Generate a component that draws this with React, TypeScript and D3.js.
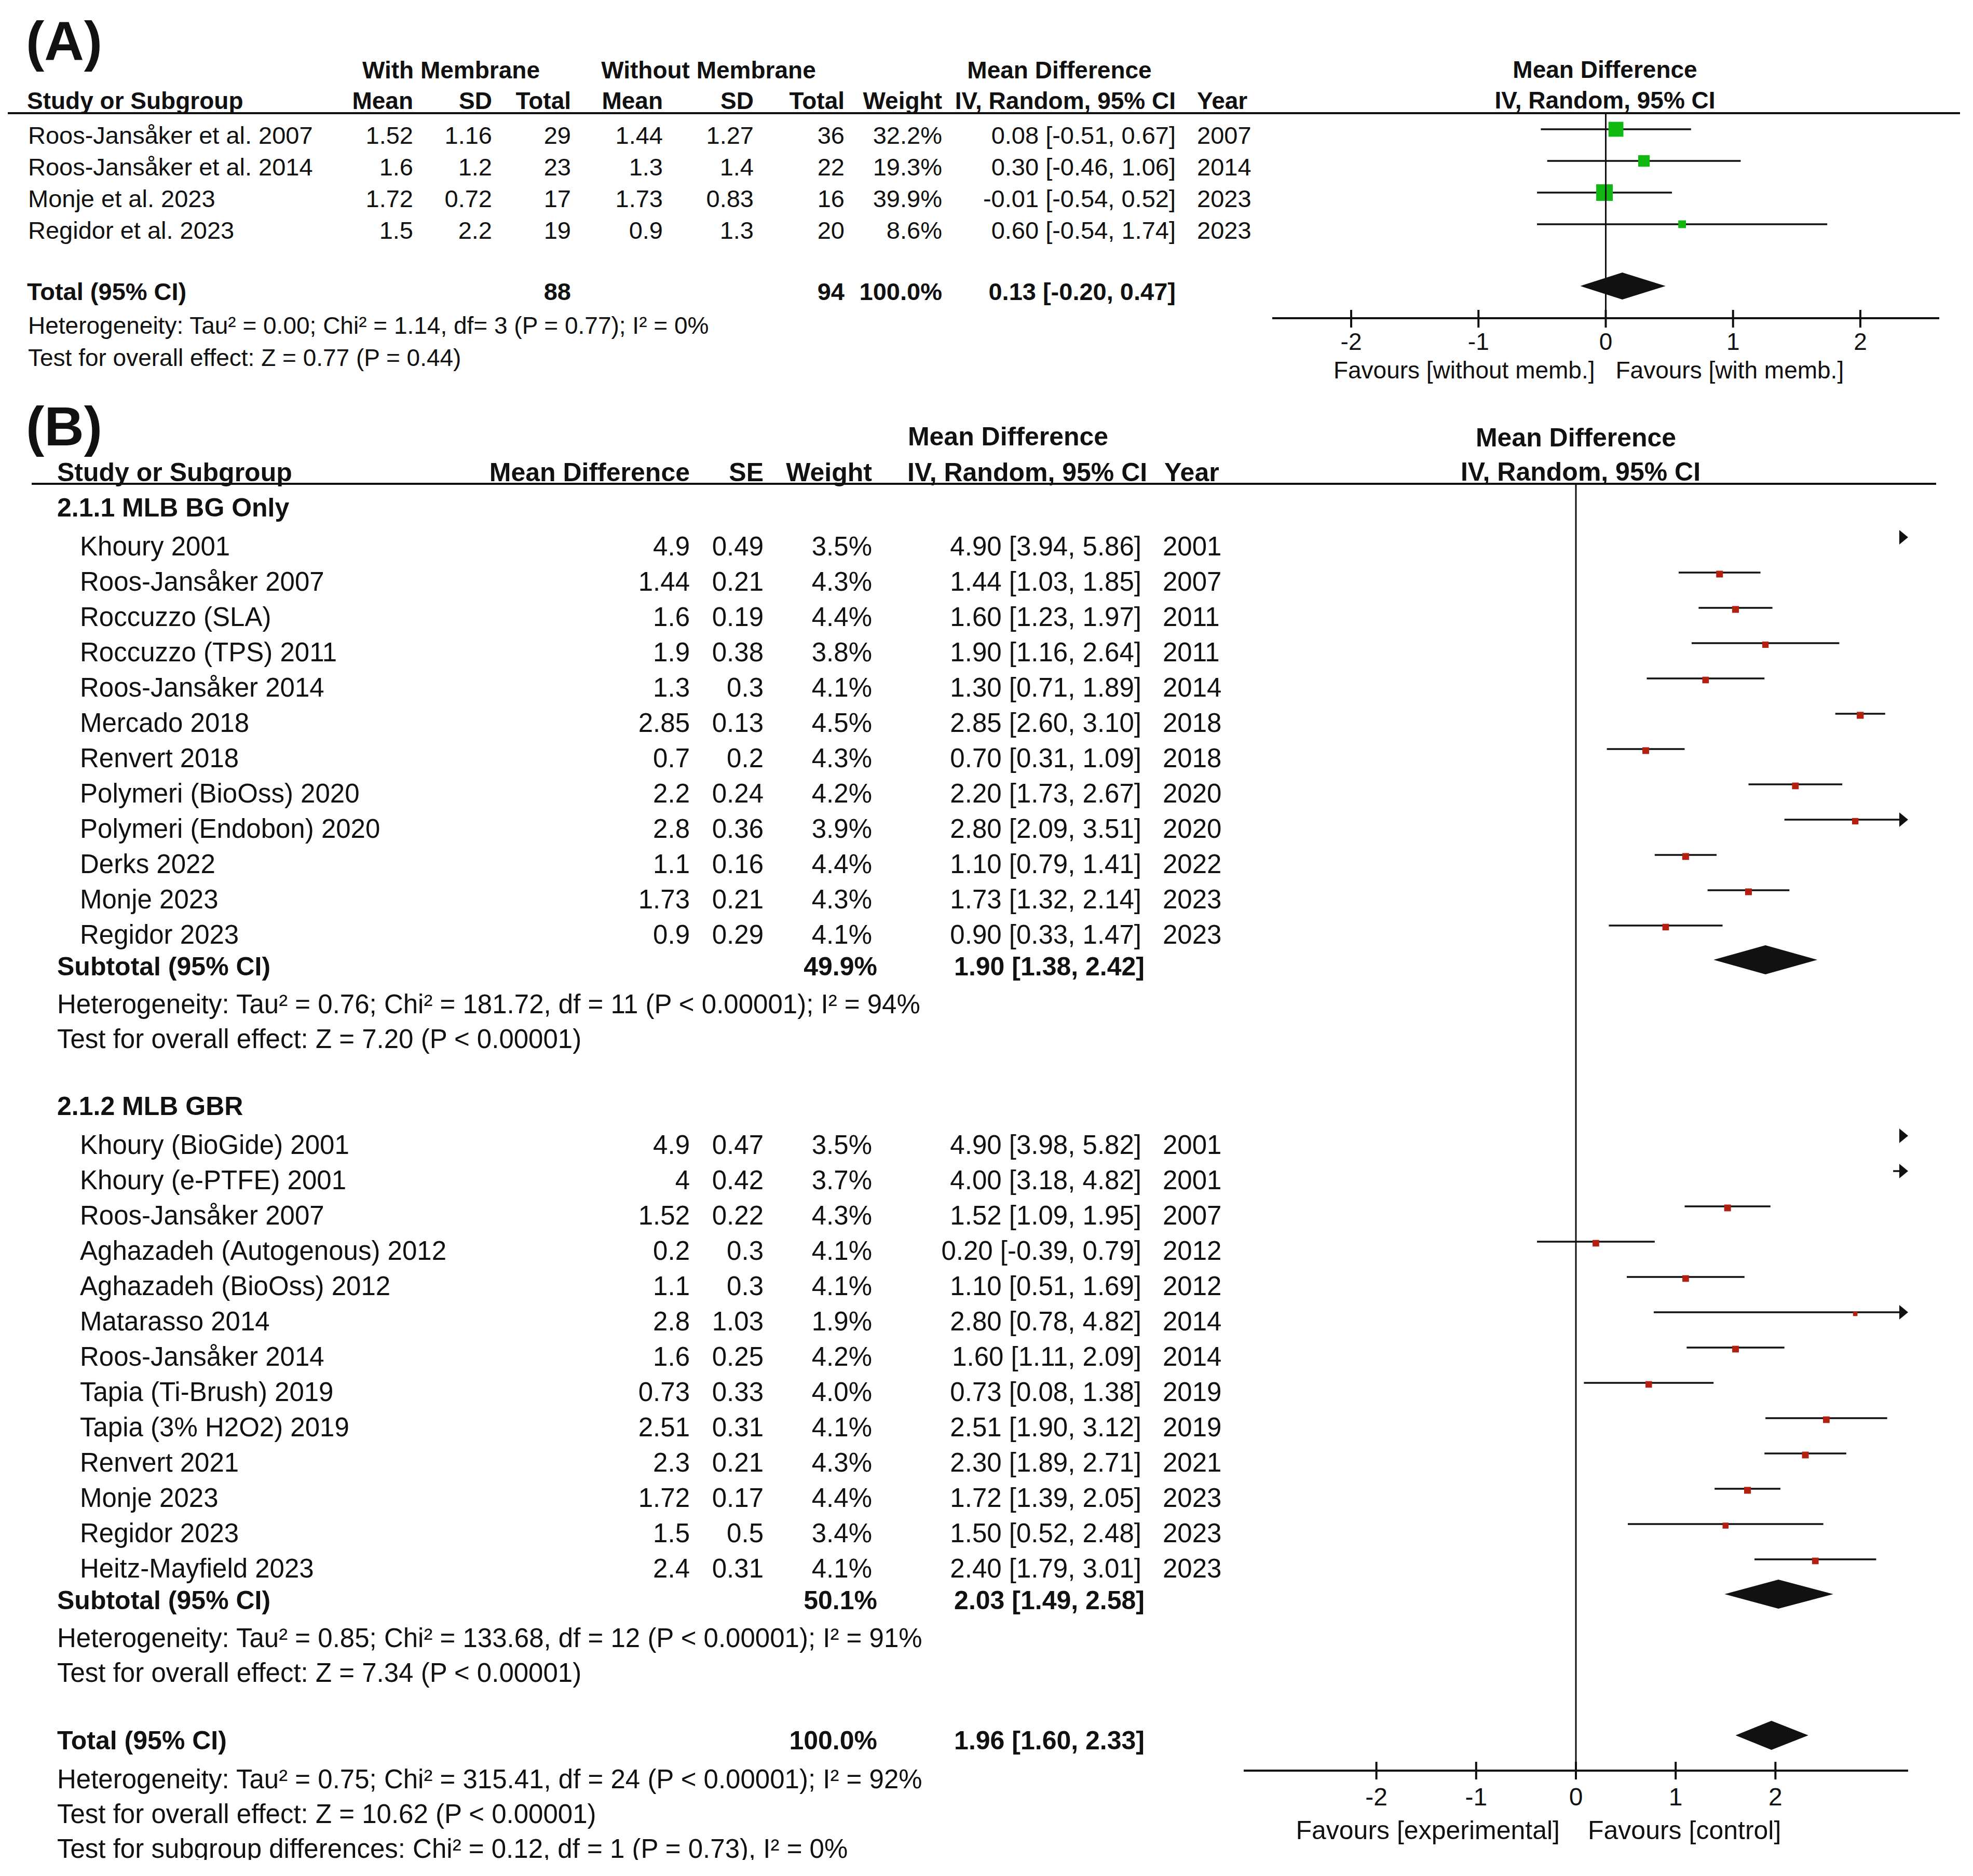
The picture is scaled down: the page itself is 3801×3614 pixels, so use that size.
import React from 'react';
import * as d3 from 'd3';

// ---------------- Panel A data ----------------
const studiesA = ['Roos-Jansåker et al. 2007', 'Roos-Jansåker et al. 2014', 'Monje et al. 2023', 'Regidor et al. 2023'];
const meanWithA = [1.52, 1.6, 1.72, 1.5];
const sdWithA = [1.16, 1.2, 0.72, 2.2];
const totalWithA = [29, 23, 17, 19];
const meanWithoutA = [1.44, 1.3, 1.73, 0.9];
const sdWithoutA = [1.27, 1.4, 0.83, 1.3];
const totalWithoutA = [36, 22, 16, 20];
const weightA = [32.2, 19.3, 39.9, 8.6];
const mdA = [0.08, 0.3, -0.01, 0.6];
const lowerA = [-0.51, -0.46, -0.54, -0.54];
const upperA = [0.67, 1.06, 0.52, 1.74];
const yearA = [2007, 2014, 2023, 2023];
const overallA = [0.13, -0.2, 0.47];
const sumTotalsA = [88, 94];
const ticksA = [-2, -1, 0, 1, 2];
const hetA = 'Heterogeneity: Tau² = 0.00; Chi² = 1.14, df= 3 (P = 0.77); I² = 0%';
const testA = 'Test for overall effect: Z = 0.77 (P = 0.44)';

// ---------------- Panel B data ----------------
const g1Names = ['Khoury 2001', 'Roos-Jansåker 2007', 'Roccuzzo (SLA)', 'Roccuzzo (TPS) 2011', 'Roos-Jansåker 2014', 'Mercado 2018', 'Renvert 2018', 'Polymeri (BioOss) 2020', 'Polymeri (Endobon) 2020', 'Derks 2022', 'Monje 2023', 'Regidor 2023'];
const g1MD = [4.9, 1.44, 1.6, 1.9, 1.3, 2.85, 0.7, 2.2, 2.8, 1.1, 1.73, 0.9];
const g1SE = [0.49, 0.21, 0.19, 0.38, 0.3, 0.13, 0.2, 0.24, 0.36, 0.16, 0.21, 0.29];
const g1Weight = [3.5, 4.3, 4.4, 3.8, 4.1, 4.5, 4.3, 4.2, 3.9, 4.4, 4.3, 4.1];
const g1Lo = [3.94, 1.03, 1.23, 1.16, 0.71, 2.6, 0.31, 1.73, 2.09, 0.79, 1.32, 0.33];
const g1Hi = [5.86, 1.85, 1.97, 2.64, 1.89, 3.1, 1.09, 2.67, 3.51, 1.41, 2.14, 1.47];
const g1Year = [2001, 2007, 2011, 2011, 2014, 2018, 2018, 2020, 2020, 2022, 2023, 2023];
const g1Sub = [49.9, 1.9, 1.38, 2.42];
const g1Het = 'Heterogeneity: Tau² = 0.76; Chi² = 181.72, df = 11 (P < 0.00001); I² = 94%';
const g1Test = 'Test for overall effect: Z = 7.20 (P < 0.00001)';

const g2Names = ['Khoury (BioGide) 2001', 'Khoury (e-PTFE) 2001', 'Roos-Jansåker 2007', 'Aghazadeh (Autogenous) 2012', 'Aghazadeh (BioOss) 2012', 'Matarasso 2014', 'Roos-Jansåker 2014', 'Tapia (Ti-Brush) 2019', 'Tapia (3% H2O2) 2019', 'Renvert 2021', 'Monje 2023', 'Regidor 2023', 'Heitz-Mayfield 2023'];
const g2MD = [4.9, 4, 1.52, 0.2, 1.1, 2.8, 1.6, 0.73, 2.51, 2.3, 1.72, 1.5, 2.4];
const g2SE = [0.47, 0.42, 0.22, 0.3, 0.3, 1.03, 0.25, 0.33, 0.31, 0.21, 0.17, 0.5, 0.31];
const g2Weight = [3.5, 3.7, 4.3, 4.1, 4.1, 1.9, 4.2, 4.0, 4.1, 4.3, 4.4, 3.4, 4.1];
const g2Lo = [3.98, 3.18, 1.09, -0.39, 0.51, 0.78, 1.11, 0.08, 1.9, 1.89, 1.39, 0.52, 1.79];
const g2Hi = [5.82, 4.82, 1.95, 0.79, 1.69, 4.82, 2.09, 1.38, 3.12, 2.71, 2.05, 2.48, 3.01];
const g2Year = [2001, 2001, 2007, 2012, 2012, 2014, 2014, 2019, 2019, 2021, 2023, 2023, 2023];
const g2Sub = [50.1, 2.03, 1.49, 2.58];
const g2Het = 'Heterogeneity: Tau² = 0.85; Chi² = 133.68, df = 12 (P < 0.00001); I² = 91%';
const g2Test = 'Test for overall effect: Z = 7.34 (P < 0.00001)';

const totalB = [100.0, 1.96, 1.6, 2.33];
const totalHetB = 'Heterogeneity: Tau² = 0.75; Chi² = 315.41, df = 24 (P < 0.00001); I² = 92%';
const totalTestB = 'Test for overall effect: Z = 10.62 (P < 0.00001)';
const subgroupTestB = 'Test for subgroup differences: Chi² = 0.12, df = 1 (P = 0.73), I² = 0%';
const ticksB = [-2, -1, 0, 1, 2];

const FONT = '"Liberation Sans", Arial, Helvetica, sans-serif';
const W = 3801;
const H = 3614;

const fmt2 = (v: number) => v.toFixed(2);
const ciText = (m: number, l: number, h: number) => `${fmt2(m)} [${fmt2(l)}, ${fmt2(h)}]`;

type TProps = { x: number; y: number; s: number; bold?: boolean; anchor?: 'start' | 'middle' | 'end'; children: React.ReactNode; clip?: string };
const T = ({ x, y, s, bold, anchor = 'start', children, clip }: TProps) => (
  <text x={x} y={y} fontSize={s} fontWeight={bold ? 'bold' : 'normal'} textAnchor={anchor} fontFamily={FONT} fill="#111" clipPath={clip}>
    {children}
  </text>
);

const GREEN = '#12b812';
const RED = '#b3200f';

export default function App() {
  // ---------- Panel A scales ----------
  const xA = d3.scaleLinear().domain([-2.62, 2.62]).range([2451, 3736]);
  const sqA = d3.scaleSqrt().domain([0, 40]).range([0, 32]);
  const fsA = 47;
  const rowA = (i: number) => 277 + 61 * i;
  const offA = 28;
  const axisYA = 613;

  // ---------- Panel B scales ----------
  const xB = d3.scaleLinear().domain([-3.33, 3.33]).range([2396, 3676]);
  const sqB = d3.scaleSqrt().domain([0, 5]).range([0, 14]);
  const fsB = 51;
  const off = 35;
  const g1Base = (i: number) => 1070 + 68 * i;
  const g1SubY = g1Base(11) + 61;
  const g2Title = g1SubY + 73 + 67 + 129;
  const g2Base = (i: number) => g2Title + 75 + 68 * i;
  const g2SubY = g2Base(12) + 61;
  const totalY = g2SubY + 270;
  const axisYB = 3411;
  const [bMin, bMax] = xB.domain();

  const diamondPath = (x: d3.ScaleLinear<number, number>, m: number, l: number, h: number, cy: number, hh: number) =>
    `M${x(l)},${cy} L${x(m)},${cy - hh} L${x(h)},${cy} L${x(m)},${cy + hh} Z`;

  const renderBRow = (name: string, md: number, se: number, w: number, lo: number, hi: number, yr: number, base: number, key: string) => {
    const cy = base - off;
    const rMax = xB(bMax);
    const marks: React.ReactNode[] = [];
    const ah = 17; // arrow head length
    const aw = 14; // arrow half height
    if (lo > bMax) {
      marks.push(<path key="tri" d={`M${rMax - ah},${cy - aw} L${rMax},${cy} L${rMax - ah},${cy + aw} Z`} fill="#111" />);
    } else {
      const x1 = xB(Math.max(lo, bMin));
      const clippedHi = hi > bMax;
      const x2 = clippedHi ? rMax - ah + 2 : xB(hi);
      marks.push(<line key="ci" x1={x1} x2={x2} y1={cy} y2={cy} stroke="#111" strokeWidth={3.5} />);
      if (clippedHi) marks.push(<path key="arr" d={`M${rMax - ah},${cy - aw} L${rMax},${cy} L${rMax - ah},${cy + aw} Z`} fill="#111" />);
      if (md <= bMax) {
        const s = sqB(w);
        marks.push(<rect key="sq" x={xB(md) - s / 2} y={cy - s / 2 + 3} width={s} height={s} fill={RED} />);
      }
    }
    return (
      <g key={key}>
        <T x={154} y={base} s={fsB}>{name}</T>
        <T x={1329} y={base} s={fsB} anchor="end">{String(md)}</T>
        <T x={1471} y={base} s={fsB} anchor="end">{String(se)}</T>
        <T x={1680} y={base} s={fsB} anchor="end">{w.toFixed(1) + '%'}</T>
        <T x={2199} y={base} s={fsB} anchor="end">{ciText(md, lo, hi)}</T>
        <T x={2240} y={base} s={fsB}>{String(yr)}</T>
        {marks}
      </g>
    );
  };

  return (
    <svg width={W} height={H} viewBox={`0 0 ${W} ${H}`} style={{ position: 'absolute', left: 0, top: 0, background: '#fff' }}>
      <defs>
        <clipPath id="bottomClip">
          <rect x={0} y={0} width={W} height={3583} />
        </clipPath>
      </defs>
      <rect x={0} y={0} width={W} height={H} fill="#fff" />

      {/* ================= PANEL A ================= */}
      <T x={50} y={116} s={106} bold>(A)</T>
      <T x={869} y={151} s={fsA - 1} bold anchor="middle">With Membrane</T>
      <T x={1365} y={151} s={fsA - 1} bold anchor="middle">Without Membrane</T>
      <T x={2041} y={151} s={fsA - 1} bold anchor="middle">Mean Difference</T>
      <T x={3092} y={150} s={fsA - 1} bold anchor="middle">Mean Difference</T>

      <T x={52} y={210} s={fsA - 1} bold>Study or Subgroup</T>
      <T x={796} y={210} s={fsA - 1} bold anchor="end">Mean</T>
      <T x={948} y={210} s={fsA - 1} bold anchor="end">SD</T>
      <T x={1100} y={210} s={fsA - 1} bold anchor="end">Total</T>
      <T x={1277} y={210} s={fsA - 1} bold anchor="end">Mean</T>
      <T x={1452} y={210} s={fsA - 1} bold anchor="end">SD</T>
      <T x={1627} y={210} s={fsA - 1} bold anchor="end">Total</T>
      <T x={1815} y={210} s={fsA - 1} bold anchor="end">Weight</T>
      <T x={2265} y={210} s={fsA - 1} bold anchor="end">IV, Random, 95% CI</T>
      <T x={2306} y={210} s={fsA - 1} bold>Year</T>
      <T x={3092} y={209} s={fsA - 1} bold anchor="middle">IV, Random, 95% CI</T>
      <line x1={15} x2={3776} y1={218} y2={218} stroke="#111" strokeWidth={4} />

      {studiesA.map((name, i) => {
        const b = rowA(i);
        const cy = b - offA;
        const s = sqA(weightA[i]);
        return (
          <g key={'a' + i}>
            <T x={54} y={b} s={fsA}>{name}</T>
            <T x={796} y={b} s={fsA} anchor="end">{String(meanWithA[i])}</T>
            <T x={948} y={b} s={fsA} anchor="end">{String(sdWithA[i])}</T>
            <T x={1100} y={b} s={fsA} anchor="end">{String(totalWithA[i])}</T>
            <T x={1277} y={b} s={fsA} anchor="end">{String(meanWithoutA[i])}</T>
            <T x={1452} y={b} s={fsA} anchor="end">{String(sdWithoutA[i])}</T>
            <T x={1627} y={b} s={fsA} anchor="end">{String(totalWithoutA[i])}</T>
            <T x={1815} y={b} s={fsA} anchor="end">{weightA[i].toFixed(1) + '%'}</T>
            <T x={2265} y={b} s={fsA} anchor="end">{ciText(mdA[i], lowerA[i], upperA[i])}</T>
            <T x={2306} y={b} s={fsA}>{String(yearA[i])}</T>
            <line x1={xA(lowerA[i])} x2={xA(upperA[i])} y1={cy} y2={cy} stroke="#111" strokeWidth={3.5} />
            <rect x={xA(mdA[i]) - s / 2} y={cy - s / 2} width={s} height={s} fill={GREEN} />
          </g>
        );
      })}

      <T x={52} y={578} s={fsA} bold>Total (95% CI)</T>
      <T x={1100} y={578} s={fsA} bold anchor="end">{String(sumTotalsA[0])}</T>
      <T x={1627} y={578} s={fsA} bold anchor="end">{String(sumTotalsA[1])}</T>
      <T x={1815} y={578} s={fsA} bold anchor="end">100.0%</T>
      <T x={2265} y={578} s={fsA} bold anchor="end">{ciText(overallA[0], overallA[1], overallA[2])}</T>
      <path d={diamondPath(xA, overallA[0], overallA[1], overallA[2], 551, 26)} fill="#111" />
      <T x={54} y={643} s={46}>{hetA}</T>
      <T x={54} y={705} s={46}>{testA}</T>

      {/* zero line A */}
      <line x1={xA(0)} x2={xA(0)} y1={218} y2={axisYA} stroke="#111" strokeWidth={3} />
      {/* axis A */}
      <line x1={xA.range()[0]} x2={xA.range()[1]} y1={axisYA} y2={axisYA} stroke="#111" strokeWidth={4} />
      {ticksA.map((t) => (
        <g key={'ta' + t}>
          <line x1={xA(t)} x2={xA(t)} y1={axisYA - 16} y2={axisYA + 18} stroke="#111" strokeWidth={4} />
          <T x={xA(t)} y={674} s={46} anchor="middle">{String(t)}</T>
        </g>
      ))}
      <T x={xA(0) - 21} y={729} s={46} anchor="end">Favours [without memb.]</T>
      <T x={xA(0) + 19} y={729} s={46}>Favours [with memb.]</T>

      {/* ================= PANEL B ================= */}
      <T x={50} y={858} s={106} bold>(B)</T>
      <T x={1942} y={858} s={fsB - 1} bold anchor="middle">Mean Difference</T>
      <T x={3036} y={860} s={fsB - 1} bold anchor="middle">Mean Difference</T>

      <T x={110} y={927} s={fsB - 1} bold>Study or Subgroup</T>
      <T x={1329} y={927} s={fsB - 1} bold anchor="end">Mean Difference</T>
      <T x={1471} y={927} s={fsB - 1} bold anchor="end">SE</T>
      <T x={1680} y={927} s={fsB - 1} bold anchor="end">Weight</T>
      <T x={1748} y={927} s={fsB - 1} bold>IV, Random, 95% CI</T>
      <T x={2243} y={927} s={fsB - 1} bold>Year</T>
      <T x={3045} y={926} s={fsB - 1} bold anchor="middle">IV, Random, 95% CI</T>
      <line x1={61} x2={3730} y1={932} y2={932} stroke="#111" strokeWidth={4} />

      {/* zero line B */}
      <line x1={xB(0)} x2={xB(0)} y1={932} y2={axisYB} stroke="#111" strokeWidth={3} />

      <T x={110} y={995} s={fsB - 1} bold>2.1.1 MLB BG Only</T>
      {g1Names.map((n, i) => renderBRow(n, g1MD[i], g1SE[i], g1Weight[i], g1Lo[i], g1Hi[i], g1Year[i], g1Base(i), 'g1' + i))}
      <T x={110} y={g1SubY} s={fsB - 1} bold>Subtotal (95% CI)</T>
      <T x={1690} y={g1SubY} s={fsB - 1} bold anchor="end">{g1Sub[0].toFixed(1) + '%'}</T>
      <T x={2205} y={g1SubY} s={fsB - 1} bold anchor="end">{ciText(g1Sub[1], g1Sub[2], g1Sub[3])}</T>
      <path d={diamondPath(xB, g1Sub[1], g1Sub[2], g1Sub[3], g1SubY - 30, 28)} fill="#111" />
      <T x={110} y={g1SubY + 73} s={fsB}>{g1Het}</T>
      <T x={110} y={g1SubY + 140} s={fsB}>{g1Test}</T>

      <T x={110} y={g2Title} s={fsB - 1} bold>2.1.2 MLB GBR</T>
      {g2Names.map((n, i) => renderBRow(n, g2MD[i], g2SE[i], g2Weight[i], g2Lo[i], g2Hi[i], g2Year[i], g2Base(i), 'g2' + i))}
      <T x={110} y={g2SubY} s={fsB - 1} bold>Subtotal (95% CI)</T>
      <T x={1690} y={g2SubY} s={fsB - 1} bold anchor="end">{g2Sub[0].toFixed(1) + '%'}</T>
      <T x={2205} y={g2SubY} s={fsB - 1} bold anchor="end">{ciText(g2Sub[1], g2Sub[2], g2Sub[3])}</T>
      <path d={diamondPath(xB, g2Sub[1], g2Sub[2], g2Sub[3], g2SubY - 29, 28)} fill="#111" />
      <T x={110} y={g2SubY + 73} s={fsB}>{g2Het}</T>
      <T x={110} y={g2SubY + 140} s={fsB}>{g2Test}</T>

      <T x={110} y={totalY} s={fsB - 1} bold>Total (95% CI)</T>
      <T x={1690} y={totalY} s={fsB - 1} bold anchor="end">{totalB[0].toFixed(1) + '%'}</T>
      <T x={2205} y={totalY} s={fsB - 1} bold anchor="end">{ciText(totalB[1], totalB[2], totalB[3])}</T>
      <path d={diamondPath(xB, totalB[1], totalB[2], totalB[3], totalY - 27, 28)} fill="#111" />
      <T x={110} y={totalY + 75} s={fsB}>{totalHetB}</T>
      <T x={110} y={totalY + 142} s={fsB}>{totalTestB}</T>
      <T x={110} y={totalY + 209} s={fsB} clip="url(#bottomClip)">{subgroupTestB}</T>

      {/* axis B */}
      <line x1={xB.range()[0]} x2={xB.range()[1]} y1={axisYB} y2={axisYB} stroke="#111" strokeWidth={4} />
      {ticksB.map((t) => (
        <g key={'tb' + t}>
          <line x1={xB(t)} x2={xB(t)} y1={axisYB - 17} y2={axisYB + 17} stroke="#111" strokeWidth={4} />
          <T x={xB(t)} y={3478} s={48} anchor="middle">{String(t)}</T>
        </g>
      ))}
      <T x={xB(0) - 31} y={3543} s={50} anchor="end">Favours [experimental]</T>
      <T x={xB(0) + 23} y={3543} s={50}>Favours [control]</T>
    </svg>
  );
}
